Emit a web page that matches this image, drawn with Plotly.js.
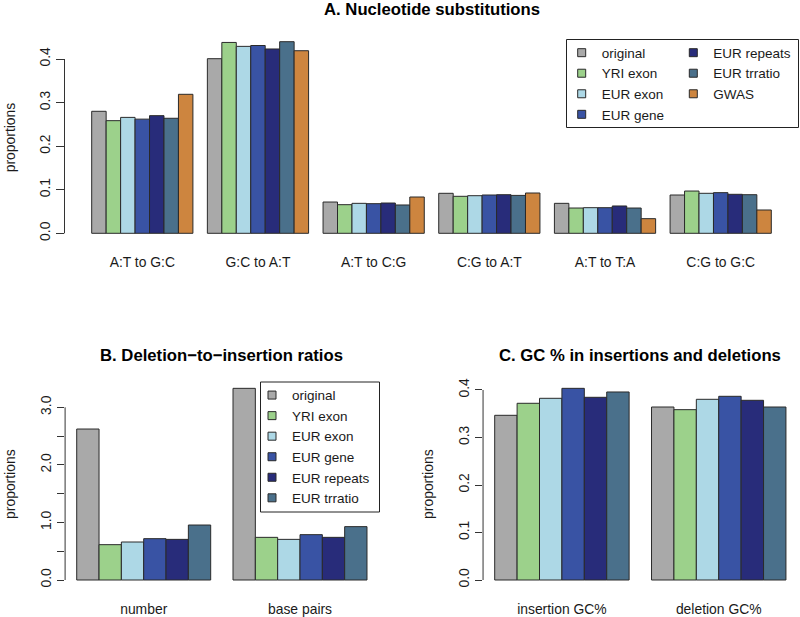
<!DOCTYPE html>
<html><head><meta charset="utf-8">
<script src="https://cdn.plot.ly/plotly-3.0.1.min.js"></script>
<style>html,body{margin:0;padding:0;background:#fff}#chart{width:800px;height:617px}</style>
</head><body><div id="chart"></div>
<script>
// ---------- data ----------
const seriesNames = ['original', 'YRI exon', 'EUR exon', 'EUR gene', 'EUR repeats', 'EUR trratio', 'GWAS'];
const seriesColors = ['#A9A9A9', '#9CD18B', '#ADD8E6', '#3953A4', '#282C7A', '#4A708B', '#CD853F'];

const catsA = ['A:T to G:C', 'G:C to A:T', 'A:T to C:G', 'C:G to A:T', 'A:T to T:A', 'C:G to G:C'];
const originalA = [0.280, 0.4007, 0.0718, 0.0918, 0.0688, 0.0879];
const yriExonA  = [0.2585, 0.438, 0.0657, 0.0849, 0.058, 0.097];
const eurExonA  = [0.266, 0.429, 0.0688, 0.0863, 0.0588, 0.0918];
const eurGeneA  = [0.262, 0.431, 0.068, 0.0879, 0.0588, 0.0933];
const eurRepA   = [0.270, 0.423, 0.0695, 0.0886, 0.0627, 0.0895];
const eurTrrA   = [0.264, 0.4397, 0.065, 0.087, 0.058, 0.0886];
const gwasA     = [0.319, 0.419, 0.0833, 0.0925, 0.0336, 0.0535];

const catsB = ['number', 'base pairs'];
const originalB = [2.623, 3.33];
const yriExonB  = [0.614, 0.741];
const eurExonB  = [0.660, 0.706];
const eurGeneB  = [0.718, 0.788];
const eurRepB   = [0.706, 0.741];
const eurTrrB   = [0.955, 0.927];

const catsC = ['insertion GC%', 'deletion GC%'];
const originalC = [0.3467, 0.3642];
const yriExonC  = [0.372, 0.3586];
const eurExonC  = [0.3825, 0.3804];
const eurGeneC  = [0.4035, 0.3867];
const eurRepC   = [0.3846, 0.3783];
const eurTrrC   = [0.3958, 0.3642];

const tickValsA = [0, 0.1, 0.2, 0.3, 0.4];
const tickTextA = ['0.0', '0.1', '0.2', '0.3', '0.4'];
const tickValsB = [0, 0.5, 1, 1.5, 2, 2.5, 3];
const tickTextB = ['0.0', '', '1.0', '', '2.0', '', '3.0'];
const tickValsC = [0, 0.1, 0.2, 0.3, 0.4];
const tickTextC = ['0.0', '0.1', '0.2', '0.3', '0.4'];

const titleA = 'A. Nucleotide substitutions';
const titleB = 'B. Deletion\u2212to\u2212insertion ratios';
const titleC = 'C. GC % in insertions and deletions';
const yTitle = 'proportions';

// ---------- helpers ----------
const W = 800, H = 617;
const FONT = 'Liberation Sans, Arial, Helvetica, sans-serif';
const TXT = '#1a1a1a';
const px = v => v / W;
const py = v => 1 - v / H;

function groupRange(nBars, nGroups) {
  const u = 1 / (nBars + 1);
  const lo = -nBars / 2 * u, hi = (nGroups - 1) + nBars / 2 * u;
  const ext = 0.04 * (hi - lo);
  return [lo - ext, hi + ext];
}
function valRange(series) {
  const m = Math.max(...series.flat());
  return [-0.04 * m, 1.04 * m];
}

const seriesA = [originalA, yriExonA, eurExonA, eurGeneA, eurRepA, eurTrrA, gwasA];
const seriesB = [originalB, yriExonB, eurExonB, eurGeneB, eurRepB, eurTrrB];
const seriesC = [originalC, yriExonC, eurExonC, eurGeneC, eurRepC, eurTrrC];

const traces = [];
function addBars(cats, series, xa, ya) {
  const n = series.length, u = 1 / (n + 1);
  series.forEach((vals, k) => {
    traces.push({
      type: 'bar', x: cats, y: vals, xaxis: xa, yaxis: ya,
      name: seriesNames[k], showlegend: false, hoverinfo: 'skip',
      width: u, offset: (k - n / 2) * u,
      marker: {color: seriesColors[k], line: {color: '#2a2a2a', width: 1}}
    });
  });
}
addBars(catsA, seriesA, 'x', 'y');
addBars(catsB, seriesB, 'x2', 'y2');
addBars(catsC, seriesC, 'x3', 'y3');

// legend entries
function addLegend(idx, legendId, xa, ya) {
  traces.push({
    type: 'scatter', mode: 'markers', x: [null], y: [null], xaxis: xa, yaxis: ya,
    name: seriesNames[idx], legend: legendId, hoverinfo: 'skip',
    marker: {symbol: 'square', size: 8, color: seriesColors[idx], line: {color: '#2a2a2a', width: 1}}
  });
}
[0, 1, 2, 3].forEach(i => addLegend(i, 'legend', 'x', 'y'));
[4, 5, 6].forEach(i => addLegend(i, 'legend2', 'x', 'y'));
[0, 1, 2, 3, 4, 5].forEach(i => addLegend(i, 'legend3', 'x2', 'y2'));

const tickFont = {family: FONT, size: 13.9, color: TXT};
function xAxis(domain, range, anchor) {
  return {domain, range, anchor, type: 'category', showgrid: false, zeroline: false,
    showline: false, ticks: '', tickfont: tickFont, ticklabelstandoff: 11, fixedrange: true};
}
function yAxis(domain, range, anchor, tv, tt) {
  return {domain, range, anchor, showgrid: false, zeroline: false, showline: false,
    tickmode: 'array', tickvals: tv, ticktext: tt, ticks: 'outside', ticklen: 7.5,
    tickwidth: 1, tickcolor: '#333', tickangle: -90, tickfont: tickFont,
    ticklabelstandoff: 4.5,
    title: {text: yTitle, font: {family: FONT, size: 13.9, color: TXT}, standoff: 18.5},
    fixedrange: true};
}

const yDomA = [py(240.97), py(34.04)];
const yDomBC = [py(587.67), py(380.66)];

const legendBase = {xanchor: 'left', yanchor: 'top', bgcolor: 'rgba(0,0,0,0)', borderwidth: 0,
  font: {family: FONT, size: 13.5, color: TXT}, tracegroupgap: 0};

function axisLine(xref, yref, tv) {
  return {type: 'line', xref: xref + ' domain', yref, x0: 0, x1: 0,
    y0: tv[0], y1: tv[tv.length - 1], line: {color: '#333', width: 1}};
}

const layout = {
  width: W, height: H, margin: {l: 0, r: 0, t: 0, b: 0},
  paper_bgcolor: '#fff', plot_bgcolor: '#fff', barmode: 'overlay',
  font: {family: FONT, color: TXT},
  xaxis: xAxis([px(64.5), px(798.5)], groupRange(7, catsA.length), 'y'),
  yaxis: yAxis(yDomA, valRange(seriesA), 'x', tickValsA, tickTextA),
  xaxis2: xAxis([px(65.1), px(378.6)], groupRange(6, catsB.length), 'y2'),
  yaxis2: yAxis(yDomBC, valRange(seriesB), 'x2', tickValsB, tickTextB),
  xaxis3: xAxis([px(483.05), px(797.6)], groupRange(6, catsC.length), 'y3'),
  yaxis3: yAxis(yDomBC, valRange(seriesC), 'x3', tickValsC, tickTextC),
  legend: Object.assign({x: px(561.7), y: py(37.4)}, legendBase),
  legend2: Object.assign({x: px(673.3), y: py(37.4)}, legendBase),
  legend3: Object.assign({x: px(252), y: py(379.8)}, legendBase),
  shapes: [
    axisLine('x', 'y', tickValsA),
    axisLine('x2', 'y2', tickValsB),
    axisLine('x3', 'y3', tickValsC),
    {type: 'rect', xref: 'paper', yref: 'paper', x0: px(566.5), x1: px(798.5), y0: py(39.5), y1: py(127.5),
      line: {color: '#222', width: 1}, fillcolor: 'rgba(0,0,0,0)'},
    {type: 'rect', xref: 'paper', yref: 'paper', x0: px(260.5), x1: px(379.5), y0: py(382), y1: py(512),
      line: {color: '#222', width: 1}, fillcolor: 'rgba(0,0,0,0)'}
  ],
  annotations: [
    {text: '<b>' + titleA + '</b>', xref: 'paper', yref: 'paper', x: px(431.5), y: py(9.5),
      xanchor: 'center', yanchor: 'middle', showarrow: false, font: {family: FONT, size: 16.7, color: '#000'}},
    {text: '<b>' + titleB + '</b>', xref: 'paper', yref: 'paper', x: px(221.8), y: py(355.5),
      xanchor: 'center', yanchor: 'middle', showarrow: false, font: {family: FONT, size: 16.7, color: '#000'}},
    {text: '<b>' + titleC + '</b>', xref: 'paper', yref: 'paper', x: px(640), y: py(355.5),
      xanchor: 'center', yanchor: 'middle', showarrow: false, font: {family: FONT, size: 16.7, color: '#000'}}
  ]
};

Plotly.newPlot('chart', traces, layout, {staticPlot: true, displayModeBar: false});
</script>
</body></html>
